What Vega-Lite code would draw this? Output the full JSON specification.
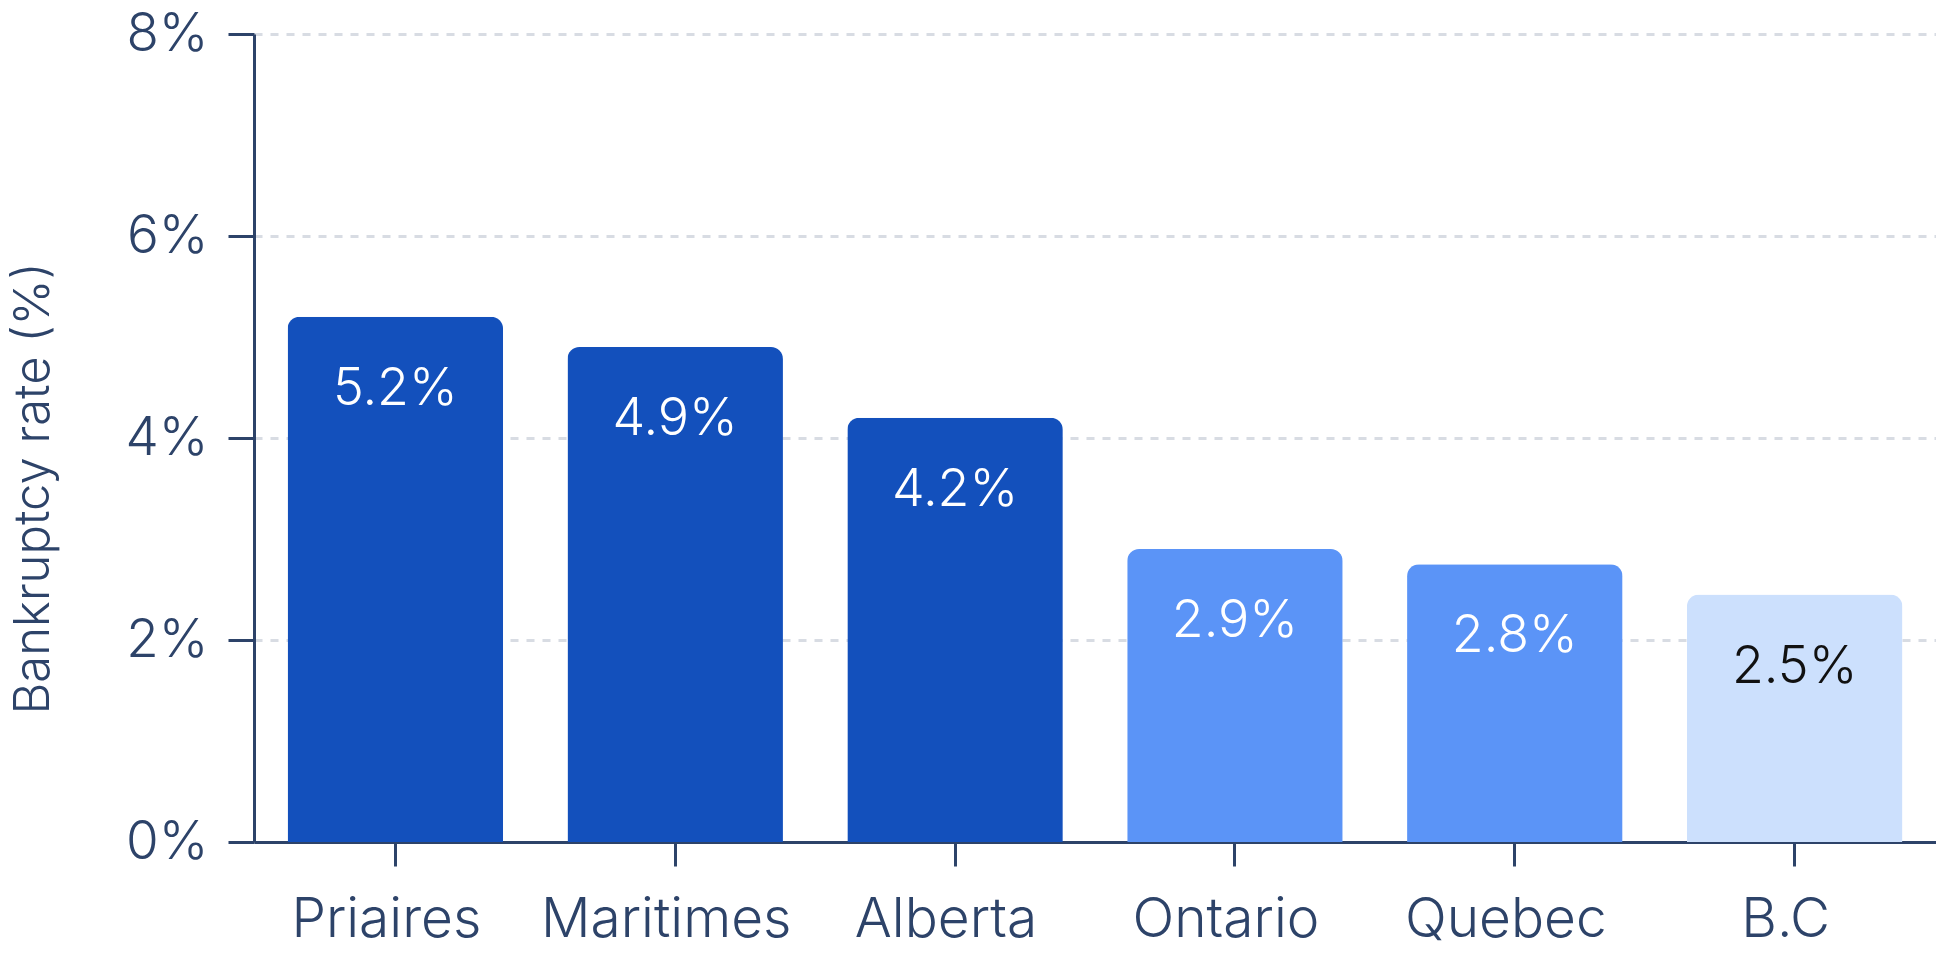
{
  "$schema": "https://vega.github.io/schema/vega-lite/v6.json",
  "width": 1682,
  "height": 808,
  "autosize": {"type": "none"},
  "padding": {"left": 254, "top": 34, "right": 0, "bottom": 128},
  "background": "white",
  "config": {
    "view": {"stroke": null},
    "font": "Inter"
  },
  "data": {
    "values": [
      {"region": "Priaires", "rate": 5.2, "label": "5.2%", "tier": "high"},
      {"region": "Maritimes", "rate": 4.9, "label": "4.9%", "tier": "high"},
      {"region": "Alberta", "rate": 4.2, "label": "4.2%", "tier": "high"},
      {"region": "Ontario", "rate": 2.9, "label": "2.9%", "tier": "mid"},
      {"region": "Quebec", "rate": 2.75, "label": "2.8%", "tier": "mid"},
      {"region": "B.C", "rate": 2.45, "label": "2.5%", "tier": "low"}
    ]
  },
  "encoding": {
    "x": {
      "field": "region",
      "type": "nominal",
      "sort": null,
      "scale": {"paddingInner": 0.23, "paddingOuter": 0.12},
      "axis": {
        "title": null,
        "labelAngle": 0,
        "labelLimit": 0,
        "labelOffset": -9,
        "labelFont": "Inter",
        "labelFontSize": 55,
        "labelFontWeight": 350,
        "labelColor": "#2D4369",
        "labelPadding": 27,
        "tickSize": 24,
        "tickWidth": 3,
        "tickColor": "#2D4369",
        "domainColor": "#2D4369",
        "domainWidth": 3,
        "grid": false
      }
    },
    "y": {
      "field": "rate",
      "type": "quantitative",
      "scale": {"domain": [0, 8], "nice": false},
      "axis": {
        "values": [0, 2, 4, 6, 8],
        "labelExpr": "datum.value + '%'",
        "labelFont": "Inter",
        "labelFontSize": 53,
        "labelFontWeight": 350,
        "labelColor": "#2D4369",
        "labelPadding": 20,
        "tickSize": 26,
        "tickWidth": 3,
        "tickColor": "#2D4369",
        "domainColor": "#2D4369",
        "domainWidth": 3,
        "grid": true,
        "gridColor": "#D8DCE3",
        "gridWidth": 3,
        "gridDash": [8, 8],
        "title": "Bankruptcy rate (%)",
        "titleFont": "Inter",
        "titleFontSize": 49,
        "titleFontWeight": 350,
        "titleColor": "#2D4369",
        "titleAngle": -90,
        "titleAlign": "center",
        "titleBaseline": "middle",
        "titleX": -221,
        "titleY": 454
      }
    }
  },
  "layer": [
    {
      "mark": {"type": "bar", "cornerRadiusTopLeft": 12, "cornerRadiusTopRight": 12},
      "encoding": {
        "color": {
          "field": "tier",
          "type": "nominal",
          "scale": {"domain": ["high", "mid", "low"], "range": ["#1350BC", "#5B94F7", "#CCE0FD"]},
          "legend": null
        }
      }
    },
    {
      "mark": {"type": "text", "baseline": "middle", "align": "center", "dy": 72, "font": "Inter", "fontSize": 52, "fontWeight": 320},
      "encoding": {
        "text": {"field": "label"},
        "color": {
          "field": "tier",
          "type": "nominal",
          "scale": {"domain": ["high", "mid", "low"], "range": ["#FFFFFF", "#FFFFFF", "#111111"]},
          "legend": null
        }
      }
    }
  ],
  "resolve": {"scale": {"color": "independent"}}
}
